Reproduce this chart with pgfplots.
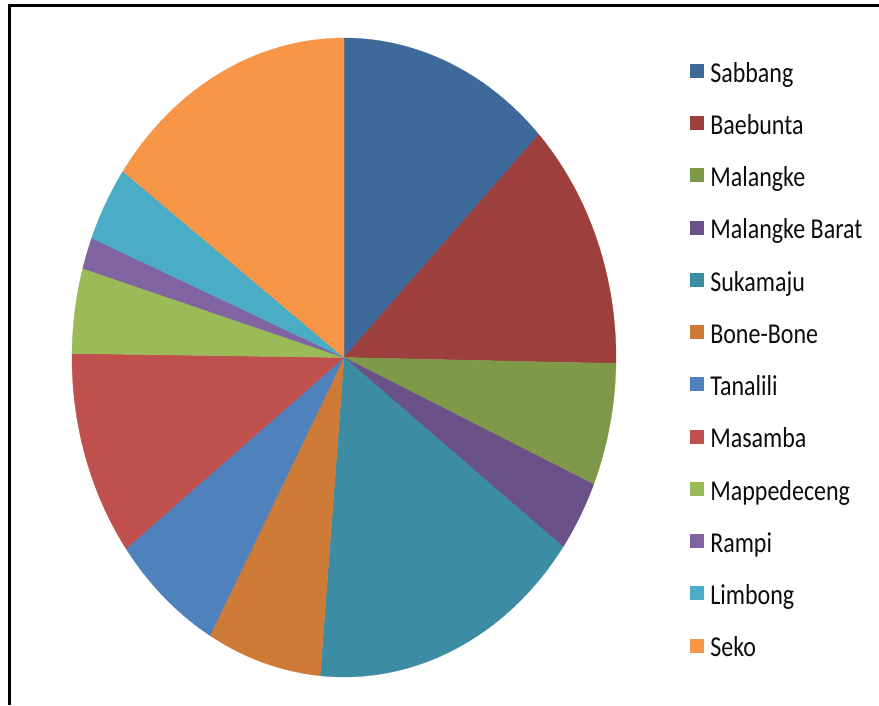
\documentclass[border=0pt]{standalone}
\usepackage{pgfplots}
\pgfplotsset{compat=1.18}
\usepackage{pgfplotstable}
\usepackage{graphicx}
\usepackage{fontspec}
\setmainfont{Carlito}
\definecolor{c0}{HTML}{3E6A9B}
\definecolor{c1}{HTML}{9D3F3D}
\definecolor{c2}{HTML}{7E9A48}
\definecolor{c3}{HTML}{6A5289}
\definecolor{c4}{HTML}{3C8DA3}
\definecolor{c5}{HTML}{CF7B38}
\definecolor{c6}{HTML}{4F81BD}
\definecolor{c7}{HTML}{C0504D}
\definecolor{c8}{HTML}{9BBB59}
\definecolor{c9}{HTML}{8064A2}
\definecolor{c10}{HTML}{4BACC6}
\definecolor{c11}{HTML}{F79646}
\pgfplotstableread[col sep=comma]{
name,value
Sabbang,12.7
Baebunta,12.6
Malangke,6.2
Malangke Barat,3.6
Sukamaju,16.3
Bone-Bone,6.8
Tanalili,6.6
Masamba,10.4
Mappedeceng,4.3
Rampi,1.6
Limbong,3.8
Seko,15.1
}\piedata
\begin{document}
\begin{tikzpicture}
\useasboundingbox (0,0) rectangle (879pt,705pt);
\draw[line width=3pt, black] (9pt,0) -- (9pt,699pt) -- (879pt,699pt);
\begin{axis}[
  at={(72pt,28pt)}, anchor=south west,
  width=544pt, height=639pt, scale only axis,
  xmin=-1, xmax=1, ymin=-1, ymax=1,
  hide axis, clip=false,
  legend cell align=left,
  legend style={draw=none, fill=none, at={(1.136,0.9595)}, anchor=north west,
    font=\fontsize{24}{28}\selectfont, text=black!95,
    inner sep=0pt, outer sep=0pt, row sep=28.1pt,
    nodes={inner sep=0pt, text height=17pt, text depth=6pt}},
  legend image code/.code={\fill[#1] (0pt,-0.5pt) rectangle (13pt,12.5pt); \path (20pt,0);},
]
\pgfmathsetmacro\startang{0}
\pgfplotsforeachungrouped \i in {0,...,11}{
  \pgfplotstablegetelem{\i}{value}\of\piedata
  \pgfmathsetmacro\endang{\startang+3.6*\pgfplotsretval}
  \pgfplotstablegetelem{\i}{name}\of\piedata
  \let\nm\pgfplotsretval
  \edef\cmd{\noexpand\addplot[fill=c\i, draw=c\i, line width=0.3pt, domain=\startang:\endang, samples=60]
     ({sin(x)},{cos(x)}) -- (axis cs:0,0) -- cycle;
     \noexpand\addlegendentry{\noexpand\scalebox{1}[1.2]{\nm}}}
  \cmd
  \global\let\startang\endang
}
\end{axis}
\end{tikzpicture}
\end{document}
